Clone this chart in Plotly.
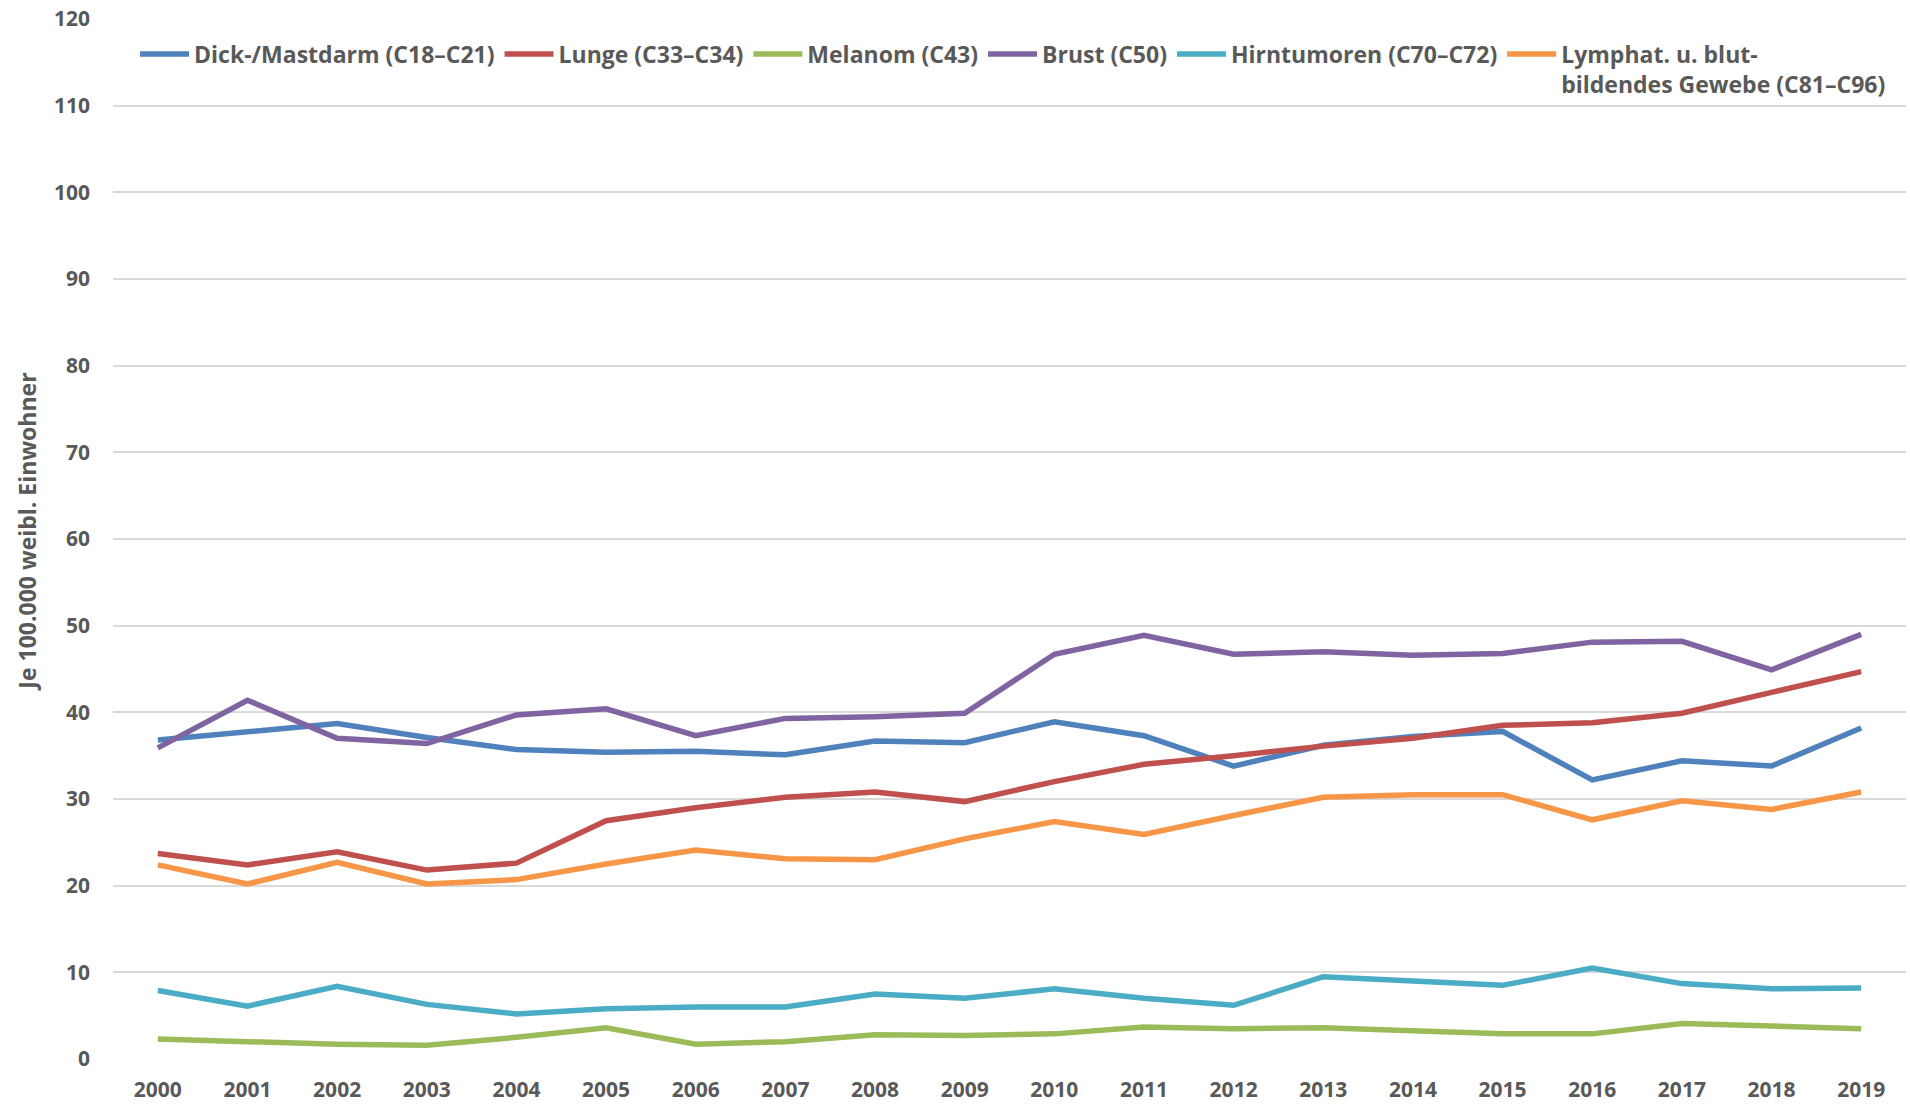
import plotly.graph_objects as go

years = [str(y) for y in range(2000, 2020)]

darm = [36.8, 37.7, 38.7, 37.1, 35.7, 35.4, 35.5, 35.1, 36.7, 36.5,
        38.9, 37.3, 33.8, 36.2, 37.2, 37.8, 32.2, 34.4, 33.8, 38.2]
lunge = [23.7, 22.4, 23.9, 21.8, 22.6, 27.5, 29.0, 30.2, 30.8, 29.7,
         32.0, 34.0, 35.0, 36.1, 37.0, 38.5, 38.8, 39.9, 42.3, 44.7]
melanom = [2.3, 2.0, 1.7, 1.6, 2.5, 3.6, 1.7, 2.0, 2.8, 2.7,
           2.9, 3.7, 3.5, 3.6, 3.2, 2.9, 2.9, 4.1, 3.8, 3.5]
brust = [35.9, 41.4, 37.0, 36.4, 39.7, 40.4, 37.3, 39.3, 39.5, 39.9,
         46.7, 48.9, 46.7, 47.0, 46.6, 46.8, 48.1, 48.2, 44.9, 49.0]
hirn = [7.9, 6.1, 8.4, 6.3, 5.2, 5.8, 6.0, 6.0, 7.5, 7.0,
        8.1, 7.0, 6.2, 9.5, 9.0, 8.5, 10.5, 8.7, 8.1, 8.2]
lymph = [22.4, 20.2, 22.7, 20.2, 20.7, 22.5, 24.1, 23.1, 23.0, 25.4,
         27.4, 25.9, 28.1, 30.2, 30.5, 30.5, 27.6, 29.8, 28.8, 30.8]

names = ["Dick-/Mastdarm (C18–C21)", "Lunge (C33–C34)", "Melanom (C43)",
         "Brust (C50)", "Hirntumoren (C70–C72)",
         "Lymphat. u. blut-<br>bildendes Gewebe (C81–C96)"]
series = [darm, lunge, melanom, brust, hirn, lymph]
colors = ["#4F81BD", "#C0504D", "#9BBB59", "#8064A2", "#4BACC6", "#F79646"]

y_ticks = list(range(0, 130, 10))

fig = go.Figure()
for n, s, c in zip(names, series, colors):
    fig.add_trace(go.Scatter(x=years, y=s, name=n, mode="lines",
                             line=dict(color=c, width=5.5)))

font_family = "Open Sans"
txt_color = "#595959"

fig.update_layout(
    width=1910, height=1105,
    paper_bgcolor="white", plot_bgcolor="white",
    margin=dict(l=113, r=4, t=19, b=46, autoexpand=False),
    font=dict(family=font_family, size=21, color=txt_color, weight="bold"),
    xaxis=dict(type="category", range=[-0.5, 19.5], showgrid=False,
               showline=False, zeroline=False, ticks="", automargin=False,
               tickfont=dict(size=21, weight="bold", color=txt_color),
               ticklabelstandoff=16),
    yaxis=dict(range=[0, 120], tickvals=y_ticks, showgrid=True,
               gridcolor="#D9D9D9", gridwidth=2, zeroline=False,
               showline=False, ticks="", automargin=False,
               tickfont=dict(size=21, weight="bold", color=txt_color),
               ticklabelstandoff=22),
    legend=dict(orientation="h", x=0.0123, xanchor="left", y=0.987,
                yanchor="top", bgcolor="rgba(0,0,0,0)",
                font=dict(size=23, weight="bold", color=txt_color),
                itemwidth=49, valign="top", tracegroupgap=0),
    annotations=[dict(text="Je 100.000 weibl. Einwohner", textangle=-90,
                      xref="paper", yref="paper", x=-0.048, y=0.507,
                      xanchor="center", yanchor="middle", showarrow=False,
                      font=dict(size=23, weight="bold", color=txt_color))],
)

fig.write_html("out.html",
               config={"displayModeBar": False},
               post_script="document.body.style.margin='0';"
                           "document.body.style.overflow='hidden';")
